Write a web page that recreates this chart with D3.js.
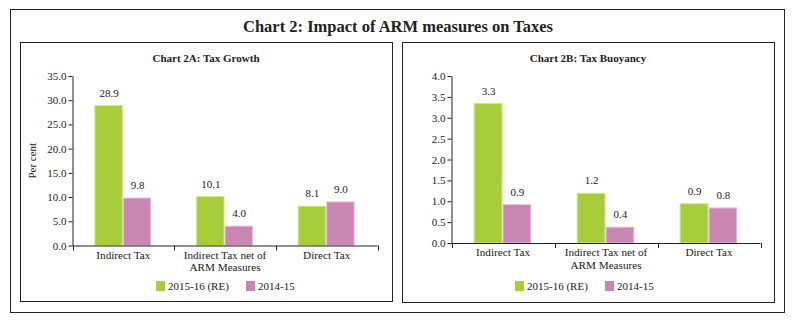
<!DOCTYPE html>
<html>
<head>
<meta charset="utf-8">
<script src="https://cdn.jsdelivr.net/npm/d3@7"></script>
<style>
  body { margin: 0; background: #fff; }
  svg text { font-family: "Liberation Serif", "DejaVu Serif", serif; fill: #222; }
</style>
</head>
<body>
<svg id="chart" width="796" height="321"></svg>
<script>
// data
const categories = ['Indirect Tax', 'Indirect Tax net of|ARM Measures', 'Direct Tax'];
const seriesNames = ['2015-16 (RE)', '2014-15'];
const colors = ['#a8cd3a', '#c986b2'];
const edgeColors = ['#cfe68c', '#e6c3da'];

const growthRE = [28.9, 10.1, 8.1];
const growthPrev = [9.8, 4.0, 9.0];
const growthTicks = [0, 5, 10, 15, 20, 25, 30, 35];

const buoyRE = [3.34, 1.19, 0.94];
const buoyPrev = [0.92, 0.38, 0.84];
const buoyTicks = [0, 0.5, 1, 1.5, 2, 2.5, 3, 3.5, 4];

const svg = d3.select('#chart');

// outer frame + title
svg.append('rect')
  .attr('x', 10.5).attr('y', 9.5).attr('width', 774).attr('height', 303)
  .attr('fill', 'none').attr('stroke', '#222').attr('stroke-width', 1);

svg.append('text')
  .attr('x', 398).attr('y', 32)
  .attr('text-anchor', 'middle')
  .style('font-size', '16.5px').style('font-weight', 'bold')
  .text('Chart 2: Impact of ARM measures on Taxes');

const drawPanel = (opt) => {
  const g = svg.append('g');

  g.append('rect')
    .attr('x', opt.box[0] + 0.5).attr('y', opt.box[1] + 0.5)
    .attr('width', opt.box[2]).attr('height', opt.box[3])
    .attr('fill', 'none').attr('stroke', '#222').attr('stroke-width', 1);

  g.append('text')
    .attr('x', opt.box[0] + opt.box[2] / 2).attr('y', 62)
    .attr('text-anchor', 'middle')
    .style('font-size', '11px').style('font-weight', 'bold')
    .text(opt.title);

  const x = d3.scaleBand().domain(categories).range([opt.x0, opt.x1]);
  const y = d3.scaleLinear().domain([0, opt.max]).range([opt.y0, 76]);
  const inner = d3.scaleBand().domain([0, 1])
    .range([x.bandwidth() * 0.22, x.bandwidth() * 0.78]);

  // y axis
  const yAxis = g.append('g')
    .attr('transform', `translate(${opt.x0},0)`)
    .call(d3.axisLeft(y).tickValues(opt.ticks).tickFormat(d3.format('.1f')).tickSize(4).tickSizeOuter(0));
  yAxis.selectAll('text').style('font-size', '11px').attr('fill', '#333').attr('x', -6);
  yAxis.selectAll('line, path').attr('stroke', '#222');

  // bars
  const series = [opt.re, opt.prev];
  series.forEach((vals, s) => {
    g.selectAll(null)
      .data(vals)
      .join('rect')
      .attr('x', (d, i) => x(categories[i]) + inner(s))
      .attr('y', d => y(d))
      .attr('width', inner.bandwidth() - 1)
      .attr('height', d => opt.y0 - y(d))
      .attr('fill', colors[s])
      .attr('stroke', edgeColors[s]).attr('stroke-width', 1);

    g.selectAll(null)
      .data(vals)
      .join('text')
      .attr('x', (d, i) => x(categories[i]) + inner(s) + inner.bandwidth() / 2)
      .attr('y', d => y(d) - 9)
      .attr('text-anchor', 'middle')
      .style('font-size', '11px')
      .text(d => d3.format('.1f')(d));
  });

  // x axis, ticks at category boundaries
  g.append('line')
    .attr('x1', opt.x0).attr('x2', opt.x1)
    .attr('y1', opt.y0 + 0.5).attr('y2', opt.y0 + 0.5)
    .attr('stroke', '#222');
  const bounds = categories.map(c => x(c)).concat([opt.x1]);
  g.selectAll(null)
    .data(bounds)
    .join('line')
    .attr('x1', d => Math.round(d) + 0.5).attr('x2', d => Math.round(d) + 0.5)
    .attr('y1', opt.y0).attr('y2', opt.y0 + 5)
    .attr('stroke', '#222');

  categories.forEach(c => {
    const t = g.append('text')
      .attr('x', x(c) + x.bandwidth() / 2).attr('y', opt.y0 + 13)
      .attr('text-anchor', 'middle')
      .style('font-size', '11.2px');
    c.split('|').forEach((line, i) => {
      t.append('tspan').attr('x', x(c) + x.bandwidth() / 2).attr('dy', i ? 12.5 : 0).text(line);
    });
  });

  if (opt.ylabel) {
    g.append('text')
      .attr('transform', `translate(${opt.x0 - 37},${(opt.y0 + 76) / 2}) rotate(-90)`)
      .attr('text-anchor', 'middle')
      .style('font-size', '11px')
      .text(opt.ylabel);
  }

  // legend
  seriesNames.forEach((name, s) => {
    const lx = opt.legendX + s * 90;
    g.append('rect')
      .attr('x', lx).attr('y', 281).attr('width', 9).attr('height', 10)
      .attr('fill', colors[s]);
    g.append('text')
      .attr('x', lx + 12).attr('y', 290)
      .style('font-size', '11px')
      .text(name);
  });
};

drawPanel({
  box: [20, 42, 372, 259],
  title: 'Chart 2A: Tax Growth',
  x0: 72.5, x1: 377.5, y0: 245.5,
  max: 35, ticks: growthTicks,
  re: growthRE, prev: growthPrev,
  ylabel: 'Per cent',
  legendX: 156
});

drawPanel({
  box: [402, 42, 372, 260],
  title: 'Chart 2B: Tax Buoyancy',
  x0: 451.5, x1: 760.5, y0: 243,
  max: 4, ticks: buoyTicks,
  re: buoyRE, prev: buoyPrev,
  ylabel: null,
  legendX: 515
});
</script>
</body>
</html>
